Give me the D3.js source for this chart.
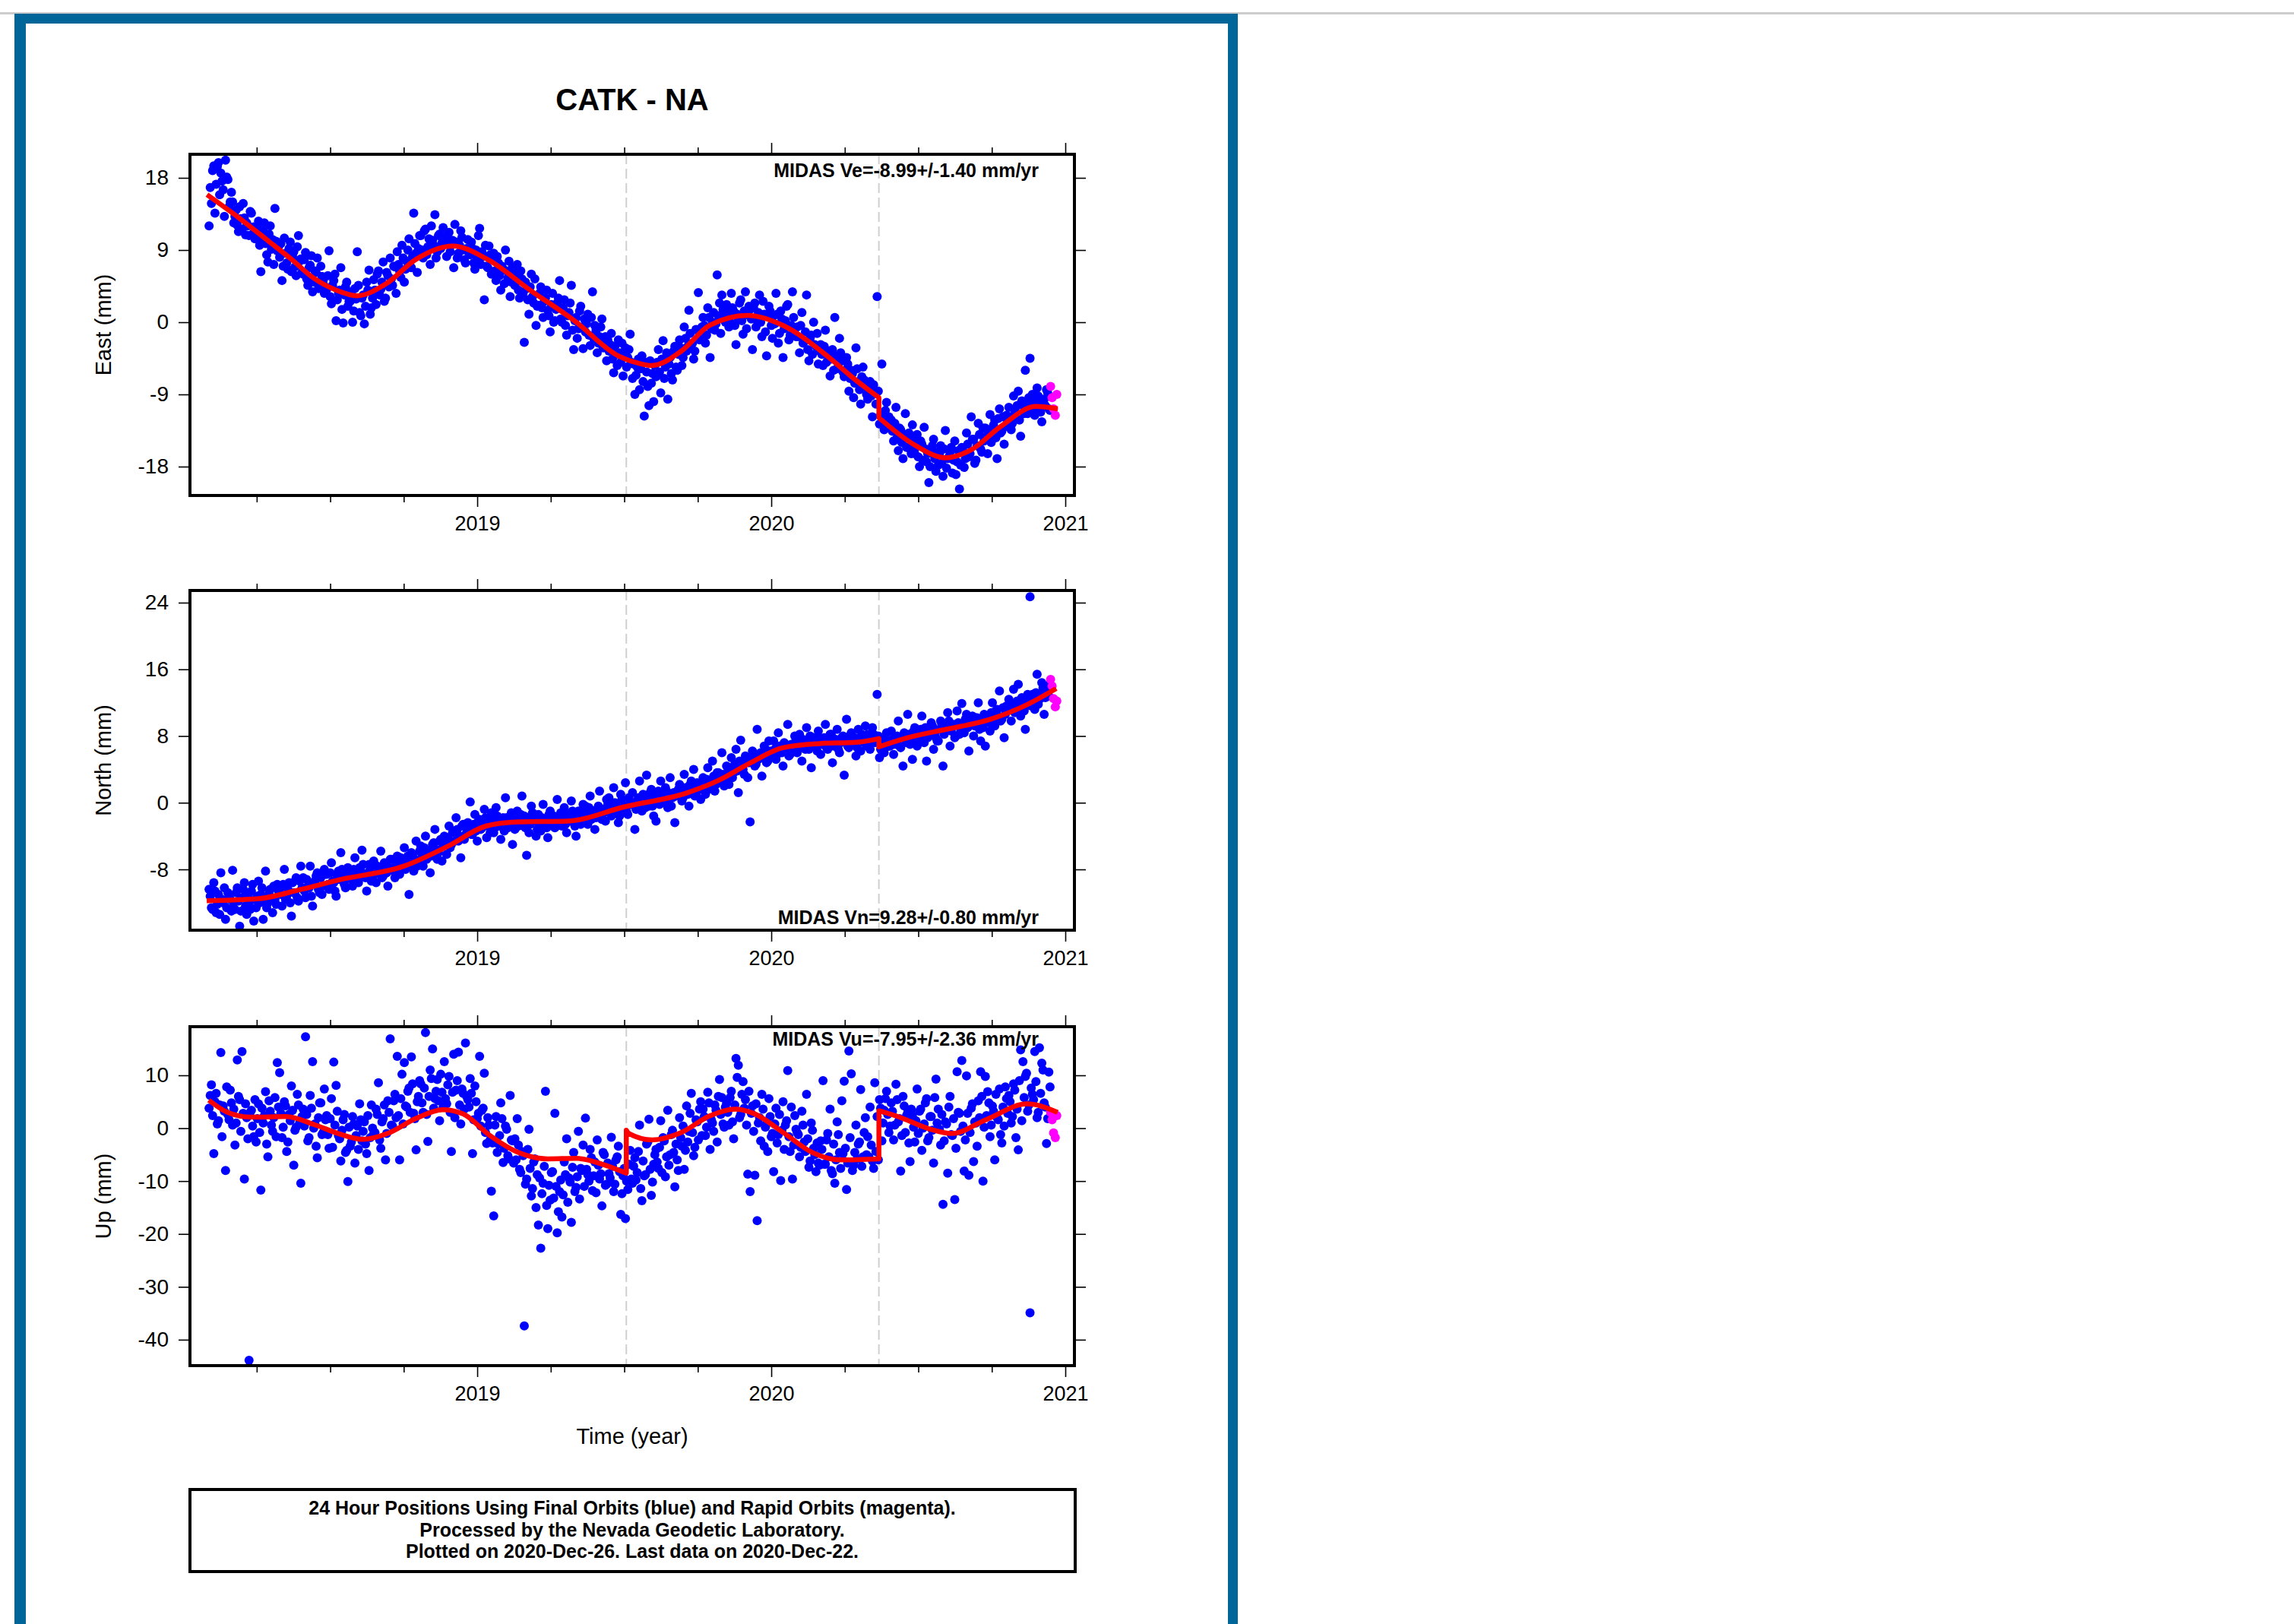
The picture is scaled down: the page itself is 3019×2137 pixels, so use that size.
<!DOCTYPE html>
<html>
<head>
<meta charset="utf-8">
<script src="https://cdn.jsdelivr.net/npm/d3@7"></script>
<style>
html,body{margin:0;padding:0;background:#ffffff;}
svg{display:block;font-family:"Liberation Sans",Arial,Helvetica,sans-serif;}
</style>
</head>
<body>
<svg id="chart" width="3019" height="2137"></svg>
<script>
// ---------------- data ----------------
const stationTitle = "CATK - NA";
const yearTicks = [2019, 2020, 2021];
const quarterTicks = [2018.25, 2018.5, 2018.75, 2019.25, 2019.5, 2019.75, 2020.25, 2020.5, 2020.75];
const eastTicks = [18, 9, 0, -9, -18];
const northTicks = [24, 16, 8, 0, -8];
const upTicks = [10, 0, -10, -20, -30, -40];
const breakTimes = [2019.507, 2020.366];
const axisTitles = ["East (mm)", "North (mm)", "Up (mm)"];
const midasLabels = ["MIDAS Ve=-8.99+/-1.40 mm/yr", "MIDAS Vn=9.28+/-0.80 mm/yr", "MIDAS Vu=-7.95+/-2.36 mm/yr"];
const footerLines = [
  "24 Hour Positions Using Final Orbits (blue) and Rapid Orbits (magenta).",
  "Processed by the Nevada Geodetic Laboratory.",
  "Plotted on 2020-Dec-26. Last data on 2020-Dec-22."
];

// epochs of final-orbit solutions, block A (decimal year)
const finalTime = [
2018.088,2018.096,2018.104,2018.112,2018.120,2018.128,2018.136,2018.144,2018.152,2018.160,
2018.168,2018.176,2018.184,2018.192,2018.200,2018.208,2018.216,2018.224,2018.232,2018.240,
2018.248,2018.256,2018.264,2018.272,2018.280,2018.288,2018.296,2018.304,2018.312,2018.320,
2018.328,2018.336,2018.344,2018.352,2018.360,2018.368,2018.376,2018.384,2018.392,2018.400,
2018.408,2018.416,2018.424,2018.432,2018.440,2018.448,2018.456,2018.464,2018.472,2018.480,
2018.488,2018.496,2018.504,2018.512,2018.520,2018.528,2018.536,2018.544,2018.552,2018.560,
2018.568,2018.576,2018.584,2018.592,2018.600,2018.608,2018.616,2018.624,2018.632,2018.640,
2018.648,2018.656,2018.664,2018.672,2018.680,2018.688,2018.696,2018.704,2018.712,2018.720,
2018.728,2018.736,2018.744,2018.752,2018.760,2018.768,2018.776,2018.784,2018.792,2018.800,
2018.808,2018.816,2018.824,2018.832,2018.840,2018.848,2018.856,2018.864,2018.872,2018.880,
2018.888,2018.896,2018.904,2018.912,2018.920,2018.928,2018.936,2018.944,2018.952,2018.960,
2018.968,2018.976,2018.984,2018.992,2019.000,2019.008,2019.016,2019.024,2019.032,2019.040,
2019.048,2019.056,2019.064,2019.072,2019.080,2019.088,2019.096,2019.104,2019.112,2019.120,
2019.128,2019.136,2019.144,2019.152,2019.160,2019.168,2019.176,2019.184,2019.192,2019.200,
2019.208,2019.216,2019.224,2019.232,2019.240,2019.248,2019.256,2019.264,2019.272,2019.280,
2019.288,2019.296,2019.304,2019.312,2019.320,2019.328,2019.336,2019.344,2019.352,2019.360,
2019.368,2019.376,2019.384,2019.392,2019.400,2019.408,2019.416,2019.424,2019.432,2019.440,
2019.448,2019.456,2019.464,2019.472,2019.480,2019.488,2019.496,2019.504,2019.512,2019.520,
2019.528,2019.536,2019.544,2019.552,2019.560,2019.568,2019.576,2019.584,2019.592,2019.600,
2019.608,2019.616,2019.624,2019.632,2019.640,2019.648,2019.656,2019.664,2019.672,2019.680,
2019.688,2019.696,2019.704,2019.712,2019.720,2019.728,2019.736,2019.744,2019.752,2019.760,
2019.768,2019.776,2019.784,2019.792,2019.800,2019.808,2019.816,2019.824,2019.832,2019.840,
2019.848,2019.856,2019.864,2019.872,2019.880,2019.888,2019.896,2019.904,2019.912,2019.920,
2019.928,2019.936,2019.944,2019.952,2019.960,2019.968,2019.976,2019.984,2019.992,2020.000,
2020.008,2020.016,2020.024,2020.032,2020.040,2020.048,2020.056,2020.064,2020.072,2020.080,
2020.088,2020.096,2020.104,2020.112,2020.120,2020.128,2020.136,2020.144,2020.152,2020.160,
2020.168,2020.176,2020.184,2020.192,2020.200,2020.208,2020.216,2020.224,2020.232,2020.240,
2020.248,2020.256,2020.264,2020.272,2020.280,2020.288,2020.296,2020.304,2020.312,2020.320,
2020.328,2020.336,2020.344,2020.352,2020.360,2020.368,2020.376,2020.384,2020.392,2020.400,
2020.408,2020.416,2020.424,2020.432,2020.440,2020.448,2020.456,2020.464,2020.472,2020.480,
2020.488,2020.496,2020.504,2020.512,2020.520,2020.528,2020.536,2020.544,2020.552,2020.560,
2020.568,2020.576,2020.584,2020.592,2020.600,2020.608,2020.616,2020.624,2020.632,2020.640,
2020.648,2020.656,2020.664,2020.672,2020.680,2020.688,2020.696,2020.704,2020.712,2020.720,
2020.728,2020.736,2020.744,2020.752,2020.760,2020.768,2020.776,2020.784,2020.792,2020.800,
2020.808,2020.816,2020.824,2020.832,2020.840,2020.848,2020.856,2020.864,2020.872,2020.880,
2020.888,2020.896,2020.904,2020.912,2020.920,2020.928,2020.936,2020.944
];
const eastFinal = [
12.0,14.8,19.5,17.2,19.9,18.6,16.5,20.2,17.8,15.0,
15.0,13.2,12.1,14.4,11.6,13.0,12.4,10.8,13.6,11.9,
10.9,12.6,6.3,11.4,9.8,7.5,12.0,10.3,14.2,8.9,
8.1,5.2,10.5,7.4,9.2,6.3,8.8,5.8,10.8,7.9,
6.0,8.7,4.6,7.1,3.8,6.4,8.0,4.9,5.7,3.6,
4.1,8.9,2.3,5.2,0.2,3.6,6.8,-0.1,4.4,2.0,
2.6,0.0,4.2,8.8,1.2,3.0,-0.2,5.0,6.5,1.8,
5.3,2.2,6.4,4.1,7.5,3.0,5.8,8.0,4.6,6.9,
8.8,6.4,9.6,5.0,7.6,10.4,6.8,13.6,8.6,9.2,
10.8,8.0,11.6,9.4,7.2,10.2,13.4,8.8,11.0,9.9,
10.5,8.2,11.2,9.6,6.8,10.0,8.6,11.4,9.0,7.4,
10.3,8.4,9.2,6.6,7.9,11.7,8.8,2.8,7.0,9.5,
6.0,8.6,5.2,7.4,4.0,6.6,9.0,5.5,3.2,6.9,
4.6,7.2,3.0,5.4,-2.5,4.2,1.0,6.0,2.4,-0.4,
2.1,4.4,0.6,3.0,1.5,-1.2,3.6,0.2,2.4,5.2,
0.0,2.8,-1.6,1.2,4.6,-3.4,0.6,-0.8,2.0,-3.3,
-1.2,1.0,-2.9,3.8,-0.4,-3.8,-1.8,0.4,-2.4,-4.8,
-3.6,-1.4,-6.3,-4.0,-2.2,-5.0,-6.7,-3.2,-4.4,-1.5,
-7.0,-9.0,-5.6,-8.4,-4.2,-11.7,-6.2,-10.4,-7.6,-9.9,
-6.8,-3.4,-8.8,-2.3,-5.6,-9.6,-4.4,-7.2,-3.0,-6.0,
-2.2,-5.4,-0.6,-3.6,1.5,-2.8,-4.6,-0.9,3.7,-1.8,
0.6,-2.6,1.8,-4.4,0.0,-1.0,5.9,2.4,3.4,1.0,
2.2,-0.6,3.6,1.4,-2.8,0.4,2.8,-1.5,3.8,0.9,
1.6,-3.4,2.4,0.2,3.4,-1.8,1.0,-4.2,2.0,-0.4,
0.8,3.6,-2.6,1.4,-4.4,0.2,2.2,-1.6,3.8,-0.8,
-0.6,-3.8,1.2,-2.4,3.4,-4.8,-1.6,0.0,-3.0,-5.2,
-2.8,-5.4,-1.0,-4.2,-6.7,-3.4,0.6,-5.8,-2.0,-4.8,
-6.8,-4.4,-8.6,-6.0,-9.4,-3.2,-7.4,-10.2,-5.6,-8.0,
-9.6,-7.4,-11.8,-8.8,3.2,-12.7,-5.2,-13.4,-10.0,-11.8,
-12.2,-14.8,-10.6,-16.0,-13.4,-17.0,-11.4,-14.2,-15.8,-12.8,
-16.4,-14.0,-18.0,-15.2,-13.1,-17.4,-20.0,-16.0,-14.6,-18.6,
-17.8,-15.4,-19.2,-13.5,-17.0,-16.2,-18.8,-14.8,-17.4,-20.8,
-15.6,-18.1,-13.8,-16.8,-11.8,-14.6,-17.2,-12.6,-15.8,-13.2,
-13.2,-16.4,-11.5,-14.0,-12.2,-17.0,-10.8,-13.6,-15.2,-11.6,
-10.6,-13.4,-9.2,-12.0,-8.6,-14.2,-10.4,-6.0,-11.4,-4.5,
-9.0,-11.6,-8.2,-10.2,-12.4,-9.6,-8.4,-10.8
];
const northFinal = [
-10.4,-12.6,-9.6,-13.2,-11.0,-8.4,-12.0,-14.0,-10.8,-11.6,
-8.1,-12.8,-10.2,-14.8,-11.4,-9.6,-13.4,-12.2,-10.6,-14.2,
-12.6,-9.4,-11.0,-14.0,-8.2,-12.0,-10.4,-13.2,-11.6,-9.8,
-10.2,-12.4,-8.0,-11.2,-9.6,-13.6,-10.8,-9.0,-11.8,-7.6,
-9.0,-11.4,-10.0,-7.6,-12.4,-9.4,-8.4,-10.8,-11.0,-8.0,
-8.6,-10.4,-7.2,-9.6,-11.2,-8.2,-6.0,-9.0,-10.2,-7.8,
-8.4,-10.0,-6.6,-9.2,-7.8,-5.7,-8.8,-10.6,-7.4,-9.4,
-7.0,-9.6,-8.2,-5.8,-8.8,-7.4,-10.0,-6.8,-8.0,-9.0,
-6.4,-8.6,-7.4,-5.4,-7.2,-11.0,-6.0,-8.2,-4.6,-7.0,
-5.2,-7.6,-4.0,-6.4,-8.4,-5.0,-3.2,-6.8,-4.6,-7.0,
-4.0,-6.2,-2.8,-5.0,-3.4,-1.8,-4.6,-6.6,-2.6,-3.8,
-2.4,0.1,-3.8,-1.4,-4.6,-2.0,-3.0,-0.8,-4.2,-2.2,
-1.2,-3.6,-0.6,-2.4,-4.4,-1.8,0.6,-3.0,-2.0,-5.0,
-3.2,-1.0,-2.6,0.8,-1.6,-6.3,-3.6,-0.4,-2.2,-4.0,
-1.4,-3.4,-0.2,-2.6,-4.2,-1.0,-2.0,-3.0,0.4,-1.8,
-2.8,-0.6,-3.6,-1.6,0.2,-2.2,-4.0,-1.0,-2.6,-0.2,
-0.4,-2.6,0.8,-1.4,-3.2,-0.8,1.4,-2.0,-1.2,0.4,
0.6,-1.6,1.8,-0.2,-2.4,1.0,-0.8,2.4,-1.4,0.0,
1.2,-3.2,0.2,2.6,-1.0,0.8,3.3,-0.4,1.6,-1.6,
-2.2,1.4,2.6,0.0,1.8,-0.6,3.0,0.6,-2.4,1.2,
2.2,0.2,3.4,1.2,-0.4,2.6,4.0,1.0,2.0,0.4,
3.0,1.0,4.2,2.2,5.0,1.4,3.6,2.6,6.0,2.0,
4.4,2.2,5.4,3.6,6.4,1.2,7.5,4.0,5.6,3.0,
-2.3,6.2,4.4,8.8,5.4,3.2,6.8,4.8,7.4,5.8,
7.4,5.2,8.4,6.2,4.4,7.0,9.4,5.8,6.6,8.0,
6.0,8.2,5.0,7.4,9.0,6.4,4.2,7.8,6.8,8.6,
5.8,7.6,9.4,6.4,8.2,4.8,7.0,8.8,6.0,7.8,
3.3,10.0,6.6,8.4,7.0,5.6,8.8,6.2,7.6,9.2,
8.2,6.4,9.0,7.2,13.0,5.4,7.6,6.0,8.4,6.8,
8.6,5.8,7.4,9.8,6.6,4.4,8.0,10.6,7.0,5.2,
9.0,6.8,8.2,10.4,7.2,5.0,8.8,9.6,6.4,7.8,
7.4,9.8,4.4,8.6,10.8,6.8,9.2,7.8,11.0,8.2,
11.9,8.4,10.6,6.2,9.6,8.0,10.2,12.0,7.4,9.0,
6.8,10.4,8.6,12.0,9.2,11.2,13.4,10.0,7.8,11.6,
12.4,9.8,13.6,11.0,14.2,10.4,12.0,8.8,13.0,24.7,
13.0,11.2,15.4,12.4,14.4,10.6,13.6,12.8
];
const upFinal = [
3.8,8.2,-4.8,6.6,1.4,14.3,4.2,-8.0,2.6,7.2,
0.6,-3.2,12.9,5.4,14.5,-9.6,2.0,-43.9,3.4,-1.6,
-2.6,4.6,-11.7,1.0,6.9,-5.4,3.2,-0.6,5.8,12.4,
10.5,-1.8,5.0,-4.4,2.6,8.0,-7.0,0.2,4.4,-10.4,
3.6,17.3,-2.4,6.2,12.6,0.8,-5.6,4.8,-1.2,7.4,
2.4,-3.8,5.6,12.5,8.1,-1.4,-6.2,1.6,-4.6,-10.1,
-3.4,2.2,-6.6,0.4,4.6,-2.4,1.2,-4.8,-8.0,4.4,
-1.0,3.6,8.6,-3.8,1.8,-6.0,5.2,16.9,0.4,6.4,
13.6,-6.0,10.2,12.4,4.0,7.6,13.5,2.8,-4.1,6.0,
8.4,3.0,18.1,-2.5,11.0,15.0,5.6,9.2,1.4,6.8,
12.6,4.6,9.8,-4.4,14.0,7.2,14.4,0.8,6.6,16.1,
5.4,9.4,-4.8,8.0,1.8,13.6,3.4,10.4,-2.9,0.6,
-11.9,-16.6,2.2,-3.0,4.8,-6.5,0.4,-5.2,6.2,-2.4,
-2.0,1.8,-7.8,-4.4,-37.4,-9.6,-0.2,-12.8,-6.4,-15.0,
-18.3,-22.7,-10.4,7.0,-19.0,-13.6,-8.2,2.8,-19.8,-12.0,
-16.8,-6.4,-2.0,-9.4,-17.8,-4.6,-11.2,-0.6,-7.6,-3.2,
1.9,-8.8,-4.0,-11.8,-6.4,-2.2,-9.6,-14.7,-5.0,-10.6,
-8.6,-1.7,-12.0,-6.0,-3.4,-16.3,-9.0,-17.1,-11.6,-4.2,
-10.4,-5.6,-8.4,0.6,-13.7,-9.0,-3.0,1.7,-12.7,-6.8,
-4.0,-7.6,1.4,-1.8,-9.2,3.4,-5.0,-0.4,-11.1,-6.0,
2.0,-3.4,-7.8,4.2,-0.6,6.6,-5.2,1.6,-2.2,5.0,
3.6,-1.4,6.8,-4.0,1.0,4.4,-2.6,9.2,5.8,0.2,
4.8,0.6,7.0,-2.0,13.2,11.9,2.6,8.8,5.4,-8.7,
-12.0,4.2,-8.9,-17.5,2.0,6.4,-3.4,0.8,5.6,-1.6,
-8.2,3.8,-1.2,-9.9,5.0,0.6,10.9,-4.4,-9.6,2.4,
-0.8,-5.4,3.2,-2.6,6.4,-7.4,1.0,-3.8,-8.2,-6.6,
-2.4,9.0,-6.8,-1.0,3.6,-8.6,-10.4,1.2,-4.6,5.2,
8.9,-11.6,14.6,10.3,-7.0,0.6,-3.0,7.3,-5.4,2.0,
-1.6,4.0,-6.2,8.6,2.2,5.4,-2.4,3.4,7.0,-0.8,
4.8,-2.2,8.3,1.2,-8.1,6.0,-0.8,3.0,-6.3,2.4,
-2.6,7.4,3.2,-4.2,0.8,5.6,-1.8,2.2,-6.6,9.3,
3.6,-3.2,-14.4,1.2,-8.5,6.0,-1.4,-13.5,10.7,2.8,
12.8,-8.1,9.9,-8.9,3.8,-6.3,1.0,5.2,10.7,-10.0,
9.8,6.9,-1.6,4.2,-6.0,2.0,7.4,-2.8,0.4,5.6,
6.2,1.0,8.4,-1.8,-4.1,14.8,12.6,9.8,3.2,-34.9,
6.4,14.5,2.0,15.2,12.3,4.8,-2.9,10.6
];

// epochs of final-orbit solutions, block B (the in-between days)
const finalTimeB = [
2018.092,2018.100,2018.108,2018.116,2018.124,2018.132,2018.140,2018.148,2018.156,2018.164,
2018.172,2018.180,2018.188,2018.196,2018.204,2018.212,2018.220,2018.228,2018.236,2018.244,
2018.252,2018.260,2018.268,2018.276,2018.284,2018.292,2018.300,2018.308,2018.316,2018.324,
2018.332,2018.340,2018.348,2018.356,2018.364,2018.372,2018.380,2018.388,2018.396,2018.404,
2018.412,2018.420,2018.428,2018.436,2018.444,2018.452,2018.460,2018.468,2018.476,2018.484,
2018.492,2018.500,2018.508,2018.516,2018.524,2018.532,2018.540,2018.548,2018.556,2018.564,
2018.572,2018.580,2018.588,2018.596,2018.604,2018.612,2018.620,2018.628,2018.636,2018.644,
2018.652,2018.660,2018.668,2018.676,2018.684,2018.692,2018.700,2018.708,2018.716,2018.724,
2018.732,2018.740,2018.748,2018.756,2018.764,2018.772,2018.780,2018.788,2018.796,2018.804,
2018.812,2018.820,2018.828,2018.836,2018.844,2018.852,2018.860,2018.868,2018.876,2018.884,
2018.892,2018.900,2018.908,2018.916,2018.924,2018.932,2018.940,2018.948,2018.956,2018.964,
2018.972,2018.980,2018.988,2018.996,2019.004,2019.012,2019.020,2019.028,2019.036,2019.044,
2019.052,2019.060,2019.068,2019.076,2019.084,2019.092,2019.100,2019.108,2019.116,2019.124,
2019.132,2019.140,2019.148,2019.156,2019.164,2019.172,2019.180,2019.188,2019.196,2019.204,
2019.212,2019.220,2019.228,2019.236,2019.244,2019.252,2019.260,2019.268,2019.276,2019.284,
2019.292,2019.300,2019.308,2019.316,2019.324,2019.332,2019.340,2019.348,2019.356,2019.364,
2019.372,2019.380,2019.388,2019.396,2019.404,2019.412,2019.420,2019.428,2019.436,2019.444,
2019.452,2019.460,2019.468,2019.476,2019.484,2019.492,2019.500,2019.508,2019.516,2019.524,
2019.532,2019.540,2019.548,2019.556,2019.564,2019.572,2019.580,2019.588,2019.596,2019.604,
2019.612,2019.620,2019.628,2019.636,2019.644,2019.652,2019.660,2019.668,2019.676,2019.684,
2019.692,2019.700,2019.708,2019.716,2019.724,2019.732,2019.740,2019.748,2019.756,2019.764,
2019.772,2019.780,2019.788,2019.796,2019.804,2019.812,2019.820,2019.828,2019.836,2019.844,
2019.852,2019.860,2019.868,2019.876,2019.884,2019.892,2019.900,2019.908,2019.916,2019.924,
2019.932,2019.940,2019.948,2019.956,2019.964,2019.972,2019.980,2019.988,2019.996,2020.004,
2020.012,2020.020,2020.028,2020.036,2020.044,2020.052,2020.060,2020.068,2020.076,2020.084,
2020.092,2020.100,2020.108,2020.116,2020.124,2020.132,2020.140,2020.148,2020.156,2020.164,
2020.172,2020.180,2020.188,2020.196,2020.204,2020.212,2020.220,2020.228,2020.236,2020.244,
2020.252,2020.260,2020.268,2020.276,2020.284,2020.292,2020.300,2020.308,2020.316,2020.324,
2020.332,2020.340,2020.348,2020.356,2020.364,2020.372,2020.380,2020.388,2020.396,2020.404,
2020.412,2020.420,2020.428,2020.436,2020.444,2020.452,2020.460,2020.468,2020.476,2020.484,
2020.492,2020.500,2020.508,2020.516,2020.524,2020.532,2020.540,2020.548,2020.556,2020.564,
2020.572,2020.580,2020.588,2020.596,2020.604,2020.612,2020.620,2020.628,2020.636,2020.644,
2020.652,2020.660,2020.668,2020.676,2020.684,2020.692,2020.700,2020.708,2020.716,2020.724,
2020.732,2020.740,2020.748,2020.756,2020.764,2020.772,2020.780,2020.788,2020.796,2020.804,
2020.812,2020.820,2020.828,2020.836,2020.844,2020.852,2020.860,2020.868,2020.876,2020.884,
2020.892,2020.900,2020.908,2020.916,2020.924,2020.932,2020.940,2020.948
];
const eastFinalB = [
16.8,18.9,13.6,19.4,15.9,17.6,13.2,18.1,14.4,16.2,
12.4,14.0,11.3,12.9,14.8,10.9,12.0,13.8,11.0,10.4,
11.8,9.6,10.6,12.4,8.4,11.0,9.1,7.2,10.1,9.4,
9.8,7.0,8.6,6.6,10.0,8.2,6.9,9.4,7.6,6.2,
7.8,5.4,6.8,8.3,5.0,6.2,4.2,7.0,5.2,4.4,
5.8,3.2,4.6,6.0,2.8,4.0,1.6,3.4,5.0,2.6,
3.8,1.4,2.9,4.6,0.8,3.4,2.0,4.0,1.0,3.0,
4.0,6.0,3.4,5.0,2.6,6.2,4.4,5.4,7.0,3.6,
7.2,5.6,8.0,6.6,9.0,7.0,8.2,9.8,6.2,10.8,
9.0,11.4,8.4,10.4,12.0,9.6,8.0,10.8,9.2,11.8,
9.8,11.0,8.8,10.2,12.2,8.0,9.6,10.6,7.8,9.2,
8.6,10.0,7.4,9.0,10.8,7.2,8.2,9.6,6.8,8.4,
7.8,6.4,8.2,5.8,7.0,4.8,6.4,7.6,5.0,6.2,
5.8,4.0,6.4,3.6,5.0,2.8,4.4,3.2,5.4,2.0,
3.6,1.8,2.6,4.0,0.8,2.2,0.0,1.6,3.0,0.4,
1.8,-0.4,0.8,2.4,-1.0,0.2,-2.0,1.4,-0.6,0.4,
-0.2,-1.6,0.6,-2.0,-1.0,-2.6,-0.6,-3.2,-1.8,-2.2,
-2.8,-4.6,-3.0,-5.4,-3.8,-2.6,-4.2,-5.6,-3.4,-5.0,
-5.2,-6.6,-4.6,-5.8,-7.4,-5.0,-8.0,-4.8,-6.4,-5.4,
-5.0,-6.2,-4.6,-7.0,-3.8,-5.2,-6.4,-3.6,-5.6,-4.0,
-3.2,-4.4,-2.0,-3.0,-1.4,-2.6,-3.6,-1.0,-2.2,-0.6,
-0.4,-1.6,0.6,-0.8,1.2,-0.2,0.8,-1.4,1.6,0.0,
1.2,0.0,1.8,-0.4,1.0,2.4,0.2,1.4,-0.8,2.0,
0.4,1.8,-0.6,1.2,0.0,2.6,-1.2,0.8,1.4,-2.0,
-0.2,1.0,-1.4,0.4,-0.8,2.0,-2.2,-0.4,0.6,-1.8,
-1.8,-0.4,-2.6,-1.2,-3.4,-2.0,-4.0,-2.8,-1.4,-3.6,
-4.0,-3.0,-5.0,-3.6,-4.6,-6.0,-4.2,-5.2,-3.8,-6.2,
-6.0,-5.2,-7.0,-6.4,-7.6,-5.8,-8.4,-6.8,-7.2,-9.0,
-8.4,-9.2,-7.8,-10.2,-8.6,-11.6,-12.4,-11.0,-13.0,-12.2,
-13.6,-12.6,-14.4,-13.2,-15.0,-14.0,-15.6,-13.8,-16.4,-14.6,
-15.6,-16.8,-14.8,-17.2,-15.8,-16.4,-18.0,-15.4,-17.0,-16.2,
-16.4,-17.6,-15.8,-18.2,-16.8,-15.6,-17.2,-19.0,-16.0,-17.8,
-16.0,-17.0,-15.2,-16.4,-14.6,-17.6,-15.4,-14.0,-16.2,-14.8,
-14.2,-13.4,-15.0,-12.8,-14.4,-12.0,-13.8,-11.8,-13.0,-12.4,
-11.8,-12.6,-11.0,-10.4,-12.2,-9.8,-11.4,-10.0,-9.4,-11.0,
-10.0,-10.8,-9.2,-11.2,-9.8,-10.4,-8.8,-11.0
];
const northFinalB = [
-11.2,-12.8,-10.6,-12.2,-13.4,-11.6,-10.2,-12.6,-11.4,-13.0,
-12.0,-10.8,-11.8,-13.0,-10.4,-12.4,-11.0,-12.8,-9.8,-11.6,
-11.2,-12.0,-10.2,-11.6,-12.6,-10.8,-11.4,-10.0,-12.2,-10.6,
-11.0,-9.8,-11.6,-10.4,-12.0,-9.6,-10.8,-11.4,-9.4,-10.2,
-10.6,-9.2,-10.2,-11.2,-9.6,-8.8,-10.4,-9.0,-10.0,-8.6,
-9.8,-8.4,-9.4,-10.6,-8.8,-9.2,-8.0,-9.8,-8.6,-9.0,
-9.2,-8.0,-8.6,-9.6,-8.2,-7.4,-9.0,-8.4,-7.8,-8.8,
-8.6,-7.6,-8.0,-9.0,-7.2,-8.4,-7.8,-6.8,-8.2,-7.4,
-7.6,-6.6,-7.2,-8.0,-6.4,-7.4,-6.2,-6.8,-7.6,-5.8,
-6.2,-5.4,-6.8,-5.8,-6.4,-4.8,-5.6,-6.0,-4.4,-5.2,
-5.0,-4.2,-5.4,-3.6,-4.6,-3.2,-4.0,-2.8,-4.4,-3.0,
-3.0,-3.8,-2.6,-3.4,-2.2,-3.2,-2.4,-1.8,-2.8,-3.6,
-2.2,-3.0,-1.6,-2.8,-2.0,-3.4,-1.8,-2.6,-1.2,-2.4,
-2.0,-2.8,-1.4,-2.4,-3.0,-1.8,-2.6,-1.2,-2.2,-3.2,
-2.6,-1.8,-2.2,-3.0,-1.4,-2.4,-1.6,-2.8,-2.0,-1.2,
-1.8,-2.6,-1.4,-2.2,-1.0,-2.8,-1.6,-2.4,-1.2,-2.0,
-1.4,-0.6,-2.0,-1.0,-1.8,-0.4,-1.2,-0.8,-2.2,-0.2,
-0.6,-1.4,0.0,-0.8,-1.6,0.4,-0.4,-1.0,0.6,-0.2,
0.0,-0.8,0.6,-0.2,1.0,-0.6,0.4,1.2,-0.4,0.8,
0.6,-0.2,1.0,0.2,1.4,0.4,-0.4,1.2,0.8,1.6,
1.2,0.6,1.8,1.0,2.2,1.4,0.8,2.4,1.6,2.0,
2.0,2.8,1.6,2.4,3.2,2.2,3.6,2.8,3.4,2.6,
3.6,4.2,3.0,4.6,3.8,5.0,4.4,3.4,5.2,4.8,
5.0,5.6,4.6,5.2,6.0,5.4,6.4,5.0,6.2,5.8,
6.4,5.8,6.8,6.0,7.2,6.6,5.6,7.0,6.2,7.6,
7.2,6.6,7.6,6.4,7.0,8.0,6.8,7.4,6.2,7.8,
7.0,7.8,6.6,7.4,8.2,6.8,7.6,6.4,7.2,8.0,
7.4,6.8,8.0,7.0,7.8,6.6,7.6,8.2,7.2,6.8,
7.8,7.2,8.2,7.6,8.0,6.4,7.0,6.6,7.4,6.8,
7.6,7.0,8.0,6.8,7.8,8.4,7.2,8.2,7.4,8.6,
8.2,7.6,8.8,8.0,9.0,7.8,8.6,9.2,8.4,7.4,
8.8,9.4,8.2,9.0,9.8,8.6,9.4,8.0,9.6,8.8,
9.4,10.0,9.0,9.8,10.4,9.2,10.2,8.8,9.6,10.6,
10.2,9.6,10.8,10.0,11.0,10.4,9.8,11.4,10.6,11.2,
11.2,11.8,10.8,12.2,11.4,12.6,11.0,12.0,12.8,11.6,
12.4,13.2,11.8,12.8,13.8,12.6,13.4,14.2
];
const upFinalB = [
6.2,2.4,5.0,0.8,4.4,-1.6,3.2,7.8,1.6,4.8,
3.6,1.0,6.0,-0.6,2.8,4.6,-2.0,3.0,0.4,5.4,
1.8,-0.8,3.8,2.4,-3.0,5.2,0.6,2.0,-1.6,4.0,
2.8,0.2,4.2,-2.6,1.4,3.4,-0.4,6.4,1.0,2.2,
0.4,2.6,-1.8,3.8,0.0,-3.4,2.0,4.8,-0.8,1.6,
-1.2,1.8,-3.6,0.6,3.2,-2.0,-0.4,2.6,-4.2,0.2,
-2.6,0.8,-1.4,-4.0,1.6,-0.6,-3.0,2.4,-1.8,0.0,
-0.8,2.6,-2.2,1.2,4.4,-1.0,3.0,0.6,5.2,2.0,
2.4,5.6,0.8,4.2,7.0,3.0,8.4,1.8,5.0,9.0,
4.8,7.6,2.6,6.0,9.4,3.8,7.0,5.2,10.2,4.0,
5.6,8.2,3.0,6.8,2.0,9.0,4.4,7.4,3.6,6.0,
4.0,6.6,1.6,5.0,2.8,0.4,3.8,-0.8,2.0,-2.2,
-2.8,0.6,-4.6,-1.4,1.8,-3.8,-0.2,-5.8,-2.2,-6.6,
-6.0,-3.2,-8.4,-5.2,-10.6,-4.0,-7.6,-11.4,-5.8,-8.8,
-9.4,-12.4,-7.2,-14.6,-10.8,-8.4,-13.2,-11.0,-15.8,-9.8,
-12.6,-8.8,-14.0,-10.2,-7.4,-12.0,-9.2,-13.4,-8.0,-11.0,
-7.8,-10.0,-5.6,-9.0,-12.2,-7.0,-8.6,-4.6,-10.8,-6.6,
-9.4,-7.2,-10.6,-5.4,-8.2,-12.4,-7.6,-10.0,-6.8,-9.6,
-7.2,-9.8,-4.4,-11.4,-6.2,-8.8,-2.6,-7.8,-10.2,-5.0,
-6.4,-3.6,-8.4,-2.4,-5.4,-7.0,-1.2,-4.6,-3.0,-8.0,
-1.8,0.4,-4.2,-2.6,2.8,-0.8,-3.6,1.2,3.6,-1.4,
2.2,0.2,4.8,1.6,-0.6,3.4,6.0,2.6,0.8,4.0,
3.0,5.8,1.2,4.4,9.6,2.0,6.4,3.8,0.6,7.0,
2.8,-0.6,4.6,1.0,-2.4,3.6,0.2,-4.4,2.2,-1.0,
0.8,-2.8,2.6,-0.4,-4.0,1.4,-1.6,4.0,-3.2,-0.2,
-1.2,-3.6,0.6,-4.4,-2.0,-6.2,-0.4,-5.0,-2.8,-7.0,
-4.0,-6.8,-2.2,-5.4,-8.0,-3.0,-6.0,-1.2,-7.6,-4.8,
-3.8,-6.6,-1.8,-8.0,-4.6,-5.8,-2.6,-7.2,-0.8,-5.0,
-5.4,-3.2,-7.6,-4.4,-6.0,3.8,1.0,5.6,2.6,0.4,
3.2,0.6,5.4,1.8,-1.4,4.2,2.4,-2.8,3.6,0.2,
1.4,-1.0,3.6,0.0,4.8,-2.4,2.2,-0.4,5.8,1.0,
-0.2,2.6,-2.4,0.8,4.0,-1.2,1.8,-3.8,3.0,-0.6,
0.4,-2.2,2.8,-0.8,4.6,1.2,-3.4,2.0,6.0,0.2,
2.4,4.8,0.6,3.2,6.4,1.6,-1.2,4.0,7.8,2.8,
5.0,2.2,7.2,3.6,9.0,1.4,5.8,10.4,4.4,7.6,
5.4,8.8,3.0,6.6,11.0,4.0,1.8,7.8
];

// rapid-orbit solutions (magenta)
const rapidTime  = [2020.950, 2020.955, 2020.960, 2020.966, 2020.971];
const rapidEast  = [-8.0, -9.4, -10.8, -11.6, -9.0];
const rapidNorth = [14.8, 14.0, 12.5, 11.5, 12.2];
const rapidUp    = [3.0, 1.6, -0.9, -1.8, 2.4];

// model (red) curves, steps encoded as repeated epochs
const eastModelTime = [2018.081,2018.19,2018.294,2018.37,2018.44,2018.52,2018.591,2018.69,2018.79,2018.917,2019.036,2019.18,2019.33,2019.48,2019.548,2019.594,2019.694,2019.79,2019.92,2020.04,2020.19,2020.28,2020.366,2020.366,2020.485,2020.594,2020.68,2020.78,2020.90,2020.974];
const eastModel = [15.9,13.0,10.0,7.8,5.6,4.0,3.3,4.8,7.8,9.5,7.8,4.0,0.2,-4.2,-5.1,-5.4,-3.6,-0.4,0.85,-0.4,-4.2,-7.0,-9.4,-11.9,-15.25,-16.9,-15.9,-13.0,-10.5,-10.8];
const northModelTime = [2018.08,2018.258,2018.4,2018.537,2018.751,2018.901,2019.03,2019.137,2019.308,2019.5,2019.715,2019.822,2019.93,2020.04,2020.165,2020.29,2020.366,2020.366,2020.465,2020.594,2020.744,2020.872,2020.969];
const northModel = [-11.75,-11.5,-10.4,-9.2,-7.6,-5.2,-2.8,-2.3,-2.2,-0.5,1.2,2.7,4.8,6.6,7.1,7.25,7.7,6.7,7.8,8.8,10.0,11.8,13.7];
const upModelTime = [2018.087,2018.151,2018.23,2018.349,2018.447,2018.527,2018.61,2018.695,2018.794,2018.883,2018.952,2019.041,2019.14,2019.239,2019.338,2019.436,2019.507,2019.507,2019.516,2019.595,2019.694,2019.79,2019.877,2019.94,2020.04,2020.14,2020.238,2020.366,2020.366,2020.436,2020.534,2020.614,2020.73,2020.87,2020.974];
const upModel = [5.3,3.0,2.1,2.2,0.66,-1.0,-2.1,-1.0,1.9,3.5,2.7,-1.3,-4.6,-5.8,-5.7,-7.0,-8.5,-0.4,-1.0,-2.2,-0.8,2.3,3.6,2.8,-0.8,-4.6,-6.0,-5.8,3.3,2.1,-0.06,-1.0,1.6,4.6,3.0];

// ---------------- drawing ----------------
const W = 3019, H = 2137;
const svg = d3.select("#chart");
const FONT = '"Liberation Sans", Arial, Helvetica, sans-serif';
const DOT_R = 6;

// page decoration
svg.append("rect").attr("x", 0).attr("y", 16).attr("width", W).attr("height", 3).attr("fill", "#cccccc");
svg.append("rect").attr("x", 19).attr("y", 18).attr("width", 1610).attr("height", 13).attr("fill", "#006699");
svg.append("rect").attr("x", 19).attr("y", 18).attr("width", 15).attr("height", H).attr("fill", "#006699");
svg.append("rect").attr("x", 1616).attr("y", 18).attr("width", 13).attr("height", H).attr("fill", "#006699");

const xL = 250, xR = 1414;
const x = d3.scaleLinear().domain([2018.023, 2021.031]).range([xL, xR]);

svg.append("text").attr("x", 832).attr("y", 145).attr("text-anchor", "middle")
  .attr("font-family", FONT).attr("font-weight", "bold").attr("font-size", 40).text(stationTitle);

const panels = [
  {top: 203, bottom: 652, domain: [-21.6, 20.94], ticks: eastTicks, vals: eastFinal, valsB: eastFinalB, rapid: rapidEast,
   mt: eastModelTime, mv: eastModel, title: axisTitles[0], midas: midasLabels[0], midasY: 233},
  {top: 777, bottom: 1224, domain: [-15.29, 25.46], ticks: northTicks, vals: northFinal, valsB: northFinalB, rapid: rapidNorth,
   mt: northModelTime, mv: northModel, title: axisTitles[1], midas: midasLabels[1], midasY: 1216},
  {top: 1351, bottom: 1797, domain: [-44.9, 19.2], ticks: upTicks, vals: upFinal, valsB: upFinalB, rapid: rapidUp,
   mt: upModelTime, mv: upModel, title: axisTitles[2], midas: midasLabels[2], midasY: 1376}
];

function styleAxis(g, fontSize) {
  g.select(".domain").remove();
  g.attr("font-family", FONT).attr("font-size", fontSize);
  g.selectAll(".tick line").attr("stroke", "#000").attr("stroke-width", 1.6);
  g.selectAll(".tick text").attr("fill", "#000");
}

panels.forEach((p, i) => {
  const y = d3.scaleLinear().domain(p.domain).range([p.bottom, p.top]);
  const g = svg.append("g");
  const clipId = "clip" + i;
  svg.append("clipPath").attr("id", clipId).append("rect")
    .attr("x", xL).attr("y", p.top).attr("width", xR - xL).attr("height", p.bottom - p.top);

  // equipment-change lines
  g.selectAll("line.brk").data(breakTimes).join("line").attr("class", "brk")
    .attr("x1", d => x(d)).attr("x2", d => x(d)).attr("y1", p.top).attr("y2", p.bottom)
    .attr("stroke", "#cfcfcf").attr("stroke-width", 2).attr("stroke-dasharray", "13,6");

  const plot = g.append("g").attr("clip-path", `url(#${clipId})`);
  const nA = Math.min(finalTime.length, p.vals.length);
  const nB = Math.min(finalTimeB.length, p.valsB.length);
  const pts = d3.range(nA).map(k => [finalTime[k], p.vals[k]])
    .concat(d3.range(nB).map(k => [finalTimeB[k], p.valsB[k]]));
  plot.selectAll("circle.f").data(pts).join("circle").attr("class", "f")
    .attr("cx", d => x(d[0])).attr("cy", d => y(d[1])).attr("r", DOT_R).attr("fill", "#0000ff");
  const rp = rapidTime.map((t, k) => [t, p.rapid[k]]);
  plot.selectAll("circle.r").data(rp).join("circle").attr("class", "r")
    .attr("cx", d => x(d[0])).attr("cy", d => y(d[1])).attr("r", DOT_R).attr("fill", "#ff00ff");

  // model: split into segments at repeated epochs
  const segs = [[]];
  p.mt.forEach((t, k) => {
    if (k > 0 && t === p.mt[k - 1]) segs.push([]);
    segs[segs.length - 1].push([t, p.mv[k]]);
  });
  const line = d3.line().x(d => x(d[0])).y(d => y(d[1])).curve(d3.curveMonotoneX);
  let dStr = "";
  segs.forEach((s, k) => {
    const part = line(s);
    dStr += (k === 0) ? part : "L" + part.slice(1);
  });
  plot.append("path").attr("d", dStr).attr("fill", "none").attr("stroke", "#ff0000")
    .attr("stroke-width", 6.5).attr("stroke-linejoin", "round");

  // frame
  g.append("rect").attr("x", xL).attr("y", p.top).attr("width", xR - xL).attr("height", p.bottom - p.top)
    .attr("fill", "none").attr("stroke", "#000").attr("stroke-width", 4);

  // axes
  const left = g.append("g").attr("transform", `translate(${xL - 2},0)`)
    .call(d3.axisLeft(y).tickValues(p.ticks).tickSize(13).tickPadding(13).tickFormat(d => String(d)));
  styleAxis(left, 28);
  const right = g.append("g").attr("transform", `translate(${xR + 2},0)`)
    .call(d3.axisRight(y).tickValues(p.ticks).tickSize(13).tickFormat(""));
  styleAxis(right, 28);
  const topMaj = g.append("g").attr("transform", `translate(0,${p.top - 2})`)
    .call(d3.axisTop(x).tickValues(yearTicks).tickSize(13).tickFormat(""));
  styleAxis(topMaj, 28);
  const topMin = g.append("g").attr("transform", `translate(0,${p.top - 2})`)
    .call(d3.axisTop(x).tickValues(quarterTicks).tickSize(7).tickFormat(""));
  styleAxis(topMin, 28);
  const botMaj = g.append("g").attr("transform", `translate(0,${p.bottom + 2})`)
    .call(d3.axisBottom(x).tickValues(yearTicks).tickSize(13).tickPadding(12).tickFormat(d => String(d)));
  styleAxis(botMaj, 27);
  const botMin = g.append("g").attr("transform", `translate(0,${p.bottom + 2})`)
    .call(d3.axisBottom(x).tickValues(quarterTicks).tickSize(7).tickFormat(""));
  styleAxis(botMin, 27);

  // axis title
  const cy = (p.top + p.bottom) / 2;
  g.append("text").attr("transform", `translate(146,${cy}) rotate(-90)`).attr("text-anchor", "middle")
    .attr("font-family", FONT).attr("font-size", 29).text(p.title);

  // MIDAS label
  g.append("text").attr("x", 1367).attr("y", p.midasY).attr("text-anchor", "end")
    .attr("font-family", FONT).attr("font-weight", "bold").attr("font-size", 25).text(p.midas);
});

svg.append("text").attr("x", 832).attr("y", 1900).attr("text-anchor", "middle")
  .attr("font-family", FONT).attr("font-size", 29).text("Time (year)");

// footer box
svg.append("rect").attr("x", xL).attr("y", 1960).attr("width", 1415 - xL).attr("height", 108)
  .attr("fill", "none").attr("stroke", "#000").attr("stroke-width", 4);
svg.selectAll("text.foot").data(footerLines).join("text").attr("class", "foot")
  .attr("x", 832).attr("y", (d, k) => 1993 + k * 28.5).attr("text-anchor", "middle")
  .attr("font-family", FONT).attr("font-weight", "bold").attr("font-size", 25).text(d => d);
</script>
</body>
</html>
